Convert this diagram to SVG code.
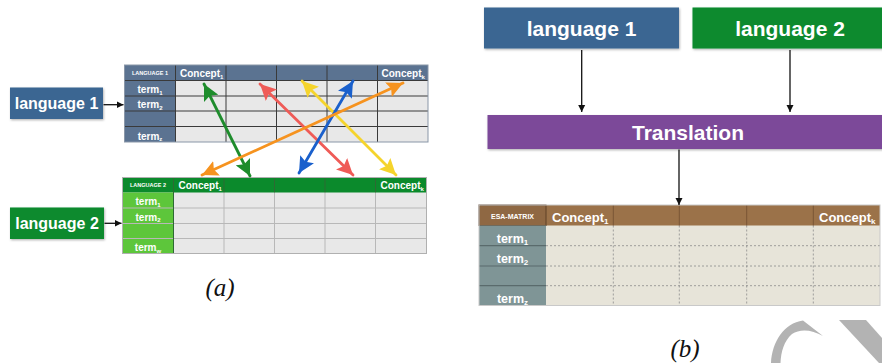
<svg xmlns="http://www.w3.org/2000/svg" width="882" height="363" viewBox="0 0 882 363">
<style>
  .lbl{font-family:"Liberation Sans",Arial,sans-serif;font-weight:bold;fill:#fff}
  .big{font-size:16px;text-anchor:middle}
  .rbig{font-size:21px;text-anchor:middle}
  .hd{font-size:10px}
  .tm{font-size:10px;text-anchor:middle}
  .tiny{font-size:5.5px;text-anchor:middle}
  .sub{font-size:6px}
  .esahd{font-size:13px}
  .esatm{font-size:12.5px;text-anchor:middle}
  .esasub{font-size:8px}
  .cap{font-family:"Liberation Serif","Times New Roman",serif;font-style:italic;font-size:25px;fill:#111;text-anchor:middle}
  .g1{stroke:#3a3a3a;stroke-width:1;fill:none}
  .g2{stroke:#b8b8b8;stroke-width:1;fill:none}
  .dash{stroke:#8a8a8a;stroke-width:0.8;stroke-dasharray:2 2;fill:none}
  .blk{stroke:#111;stroke-width:1.3;fill:none}
  .col{stroke-width:2.8;fill:none;stroke-linecap:round}
</style>
<defs>
  <filter id="sh" x="-10%" y="-10%" width="130%" height="140%">
    <feDropShadow dx="0.8" dy="1.2" stdDeviation="1" flood-color="#000" flood-opacity="0.3"/>
  </filter>
  <marker id="ab" markerUnits="userSpaceOnUse" markerWidth="8" markerHeight="8" refX="7" refY="4" orient="auto"><path d="M0,0.5 L7,4 L0,7.5 Z" fill="#111"/></marker>
  <marker id="mG" markerUnits="userSpaceOnUse" markerWidth="17" markerHeight="16" refX="16" refY="8" orient="auto-start-reverse"><path d="M0,0 L16,8 L0,16 L3,8 Z" fill="#1e8c2c"/></marker>
  <marker id="mR" markerUnits="userSpaceOnUse" markerWidth="17" markerHeight="16" refX="16" refY="8" orient="auto-start-reverse"><path d="M0,0 L16,8 L0,16 L3,8 Z" fill="#ef5b57"/></marker>
  <marker id="mY" markerUnits="userSpaceOnUse" markerWidth="17" markerHeight="16" refX="16" refY="8" orient="auto-start-reverse"><path d="M0,0 L16,8 L0,16 L3,8 Z" fill="#f5d42c"/></marker>
  <marker id="mB" markerUnits="userSpaceOnUse" markerWidth="17" markerHeight="16" refX="16" refY="8" orient="auto-start-reverse"><path d="M0,0 L16,8 L0,16 L3,8 Z" fill="#1a60cc"/></marker>
  <marker id="mO" markerUnits="userSpaceOnUse" markerWidth="17" markerHeight="16" refX="16" refY="8" orient="auto-start-reverse"><path d="M0,0 L16,8 L0,16 L3,8 Z" fill="#f6931f"/></marker>
</defs>
<rect width="882" height="363" fill="#fff"/>

<g id="a-language1">
  <rect x="10" y="87.5" width="93" height="31.5" fill="#3b6692" filter="url(#sh)"/>
  <text class="lbl big" x="56.5" y="109">language 1</text>
</g>
<g id="a-language2">
  <rect x="10" y="207.5" width="94" height="31.5" fill="#078a2e" filter="url(#sh)"/>
  <text class="lbl big" x="57" y="229">language 2</text>
</g>

<g id="a-table1">
  <rect x="124.5" y="65" width="303.5" height="77" fill="#e8e8e8"/>
  <rect x="124.5" y="65" width="303.5" height="15.5" fill="#5b7391"/>
  <rect x="124.5" y="65" width="51" height="77" fill="#5b7391"/>
  <path class="g1" d="M124.5,80.5H428 M124.5,96H428 M124.5,111H428 M124.5,126.5H428 M175.5,65V142 M226,65V142 M276.5,65V142 M327,65V142 M377.5,65V142"/>
  <rect x="124.5" y="65" width="303.5" height="77" fill="none" stroke="#8a97a8" stroke-width="1"/>
  <text class="lbl tiny" x="150" y="75">LANGUAGE 1</text>
  <text class="lbl hd" x="180" y="77">Concept<tspan class="sub" dy="1.5">1</tspan></text>
  <text class="lbl hd" x="381.5" y="77">Concept<tspan class="sub" dy="1.5">k</tspan></text>
  <text class="lbl tm" x="150" y="93">term<tspan class="sub" dy="1.5">1</tspan></text>
  <text class="lbl tm" x="150" y="108">term<tspan class="sub" dy="1.5">2</tspan></text>
  <text class="lbl tm" x="150" y="139.5">term<tspan class="sub" dy="1.5">z</tspan></text>
</g>

<g id="a-table2">
  <rect x="122.5" y="177.5" width="304" height="76" fill="#e8e8e8"/>
  <rect x="122.5" y="177.5" width="304" height="15" fill="#0b8a2c"/>
  <rect x="122.5" y="192.5" width="51" height="61" fill="#5dc63b"/>
  <path class="g2" d="M122.5,208H426.5 M122.5,223.5H426.5 M122.5,238.5H426.5 M224,192.5V253.5 M274.5,192.5V253.5 M325,192.5V253.5 M375.5,192.5V253.5"/>
  <path d="M173.5,177.5V253.5 M224,177.5V192.5 M274.5,177.5V192.5 M325,177.5V192.5 M375.5,177.5V192.5" stroke="#2d6a33" stroke-width="1" fill="none"/>
  <rect x="122.5" y="177.5" width="304" height="76" fill="none" stroke="#b0b0b0" stroke-width="1"/>
  <text class="lbl tiny" x="148" y="187">LANGUAGE 2</text>
  <text class="lbl hd" x="178.5" y="189">Concept<tspan class="sub" dy="1.5">1</tspan></text>
  <text class="lbl hd" x="380.5" y="189">Concept<tspan class="sub" dy="1.5">k</tspan></text>
  <text class="lbl tm" x="148" y="205">term<tspan class="sub" dy="1.5">1</tspan></text>
  <text class="lbl tm" x="148" y="220.5">term<tspan class="sub" dy="1.5">2</tspan></text>
  <text class="lbl tm" x="148" y="251">term<tspan class="sub" dy="1.5">w</tspan></text>
</g>

<text class="cap" x="220" y="296">(a)</text>

<g id="b-language1">
  <rect x="484" y="7.5" width="195" height="41" fill="#3b6692" filter="url(#sh)"/>
  <text class="lbl rbig" x="581.5" y="35.5">language 1</text>
</g>
<g id="b-language2">
  <rect x="692.5" y="7.5" width="195" height="41" fill="#078a2e" filter="url(#sh)"/>
  <text class="lbl rbig" x="790" y="35.5">language 2</text>
</g>
<g id="b-translation">
  <rect x="487.5" y="115" width="400" height="34" fill="#7b4a99" filter="url(#sh)"/>
  <text class="lbl rbig" x="688" y="140">Translation</text>
</g>

<g id="b-esa-matrix">
  <rect x="479" y="205" width="401" height="100.5" fill="#e7e4d9"/>
  <rect x="479" y="205" width="401" height="20.5" fill="#9b7249"/>
  <rect x="479" y="205" width="67" height="20.5" fill="#8f6843" stroke="#5f4127" stroke-width="1"/>
  <rect x="479" y="225.5" width="67" height="80" fill="#7f9596"/>
  <path d="M479,245.7H546 M479,266H546 M479,285.7H546" stroke="#5a6b6c" stroke-width="1.2" fill="none"/>
  <path class="dash" d="M546,245.7H880 M546,266H880 M546,285.7H880 M613.3,225.5V305.5 M679.3,225.5V305.5 M746.7,225.5V305.5 M813.3,225.5V305.5"/>
  <path d="M613.3,205V225.5 M679.3,205V225.5 M746.7,205V225.5 M813.3,205V225.5" stroke="#7a5636" stroke-width="1" fill="none"/>
  <rect x="479" y="205" width="401" height="100.5" fill="none" stroke="#c9c9c9" stroke-width="1"/>
  <text class="lbl" x="512.5" y="218.5" font-size="7" text-anchor="middle" fill="#f3eadf">ESA-MATRIX</text>
  <text class="lbl esahd" x="552" y="222">Concept<tspan class="esasub" dy="2">1</tspan></text>
  <text class="lbl esahd" x="819" y="222">Concept<tspan class="esasub" dy="2">k</tspan></text>
  <text class="lbl esatm" x="512.5" y="243">term<tspan class="esasub" dy="2">1</tspan></text>
  <text class="lbl esatm" x="512.5" y="263">term<tspan class="esasub" dy="2">2</tspan></text>
  <text class="lbl esatm" x="512.5" y="303">term<tspan class="esasub" dy="2">z</tspan></text>
</g>

<text class="cap" x="685" y="357">(b)</text>

<g id="watermark" fill="#b3b3b3">
  <path d="M771,363 C772,342 784,323 803,320.5 L823,336 C812,329.5 800,328.5 792,334 C784,341 781,352 780.5,363 Z"/>
  <path d="M839,320 L866,320 L882,338 L882,363 L879,363 Z"/>
</g>

<g id="connectors">
  <line class="blk" x1="103.5" y1="104.7" x2="123.5" y2="104.7" marker-end="url(#ab)"/>
  <line class="blk" x1="104.5" y1="223.3" x2="121.5" y2="223.3" marker-end="url(#ab)"/>
  <line class="blk" x1="581.7" y1="50" x2="581.7" y2="112" marker-end="url(#ab)"/>
  <line class="blk" x1="790" y1="50" x2="790" y2="112" marker-end="url(#ab)"/>
  <line class="blk" x1="679" y1="149.5" x2="679" y2="205" marker-end="url(#ab)"/>
  <line class="col" stroke="#1e8c2c" x1="204" y1="84" x2="250" y2="176" marker-start="url(#mG)" marker-end="url(#mG)"/>
  <line class="col" stroke="#ef5b57" x1="260" y1="84" x2="353" y2="175" marker-start="url(#mR)" marker-end="url(#mR)"/>
  <line class="col" stroke="#f5d42c" x1="302" y1="81" x2="396" y2="175" marker-start="url(#mY)" marker-end="url(#mY)"/>
  <line class="col" stroke="#1a60cc" x1="353" y1="81" x2="299" y2="173" marker-start="url(#mB)" marker-end="url(#mB)"/>
  <line class="col" stroke="#f6931f" x1="403" y1="83" x2="202" y2="175" marker-start="url(#mO)" marker-end="url(#mO)"/>
</g>
</svg>
